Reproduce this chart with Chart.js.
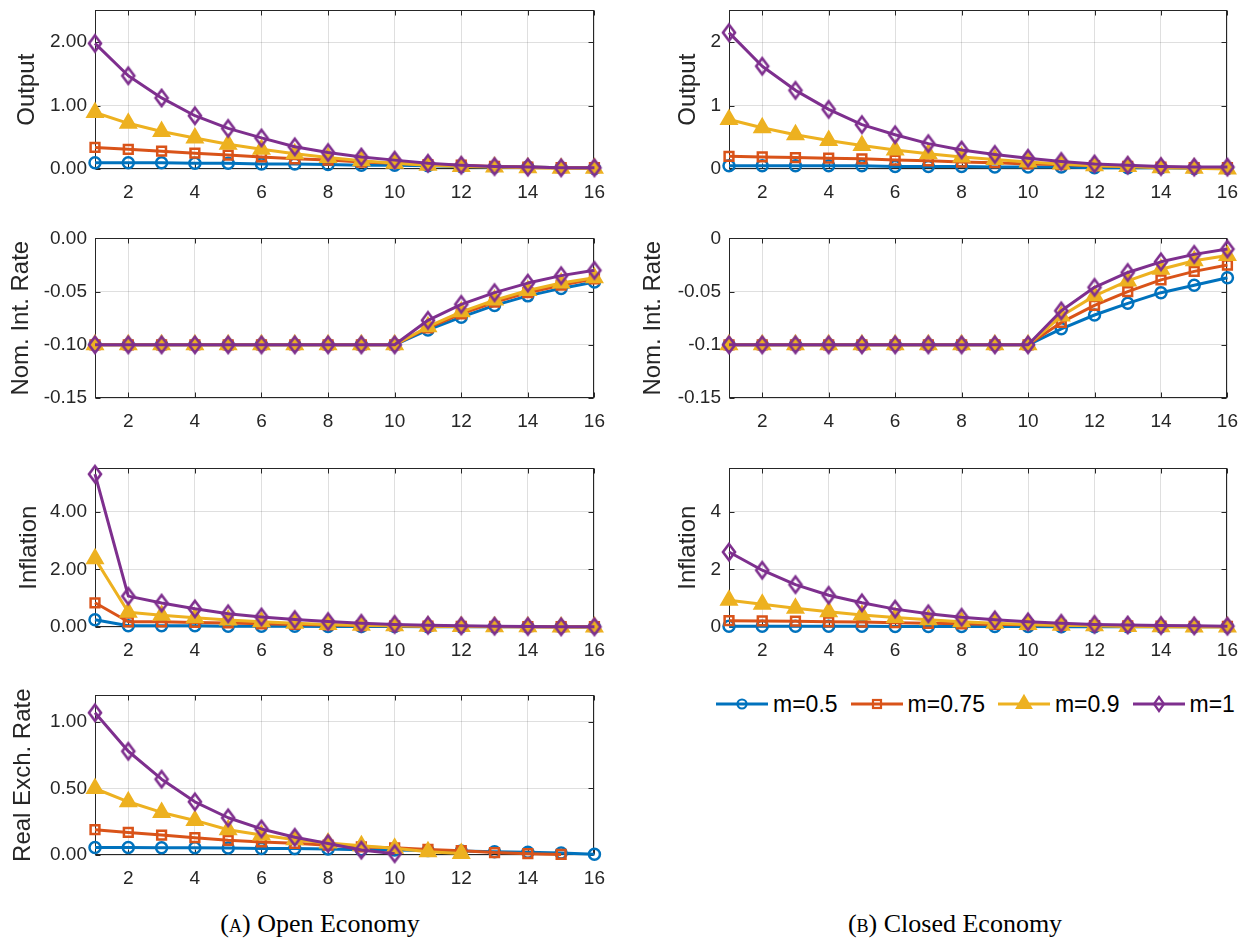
<!DOCTYPE html>
<html>
<head>
<meta charset="utf-8">
<script src="https://cdn.jsdelivr.net/npm/chart.js@4.4.1/dist/chart.umd.min.js"></script>
<style>
  body { margin: 0; background: #fff; }
  #page { position: relative; width: 1253px; height: 944px; overflow: hidden; font-family: "Liberation Sans", Arial, sans-serif; }
  #page canvas.panel { position: absolute; }
  #legend { position: absolute; left: 716px; top: 690px; display: flex; align-items: center; font-size: 23px; color: #000; }
  #legend .item { display: flex; align-items: center; margin-right: 13px; }
  #legend canvas { margin-right: 5px; }
  .caption { position: absolute; top: 909px; width: 400px; text-align: center; font-family: "Liberation Serif", "DejaVu Serif", serif; font-size: 26px; color: #000; }
  .sc { font-variant: small-caps; }
</style>
</head>
<body>
<div id="page">
  <div id="legend"></div>
  <div class="caption" style="left:120px">(<span class="sc">a</span>) Open Economy</div>
  <div class="caption" style="left:755px">(<span class="sc">b</span>) Closed Economy</div>
</div>
<script>
// periods on the x axis
const periods = [1, 2, 3, 4, 5, 6, 7, 8, 9, 10, 11, 12, 13, 14, 15, 16];
const seriesNames = ['m=0.5', 'm=0.75', 'm=0.9', 'm=1'];

// open economy (rows: m=0.5, m=0.75, m=0.9, m=1)
const outputOpen = [
  [0.10, 0.10, 0.10, 0.09, 0.09, 0.08, 0.08, 0.07, 0.06, 0.06, 0.05, 0.04, 0.03, 0.03, 0.02, 0.01],
  [0.34, 0.31, 0.28, 0.25, 0.22, 0.19, 0.16, 0.14, 0.11, 0.09, 0.07, 0.06, 0.04, 0.03, 0.02, 0.02],
  [0.89, 0.72, 0.59, 0.49, 0.39, 0.31, 0.24, 0.18, 0.13, 0.09, 0.06, 0.04, 0.03, 0.02, 0.01, 0.01],
  [1.98, 1.47, 1.12, 0.84, 0.64, 0.49, 0.35, 0.26, 0.19, 0.14, 0.09, 0.06, 0.04, 0.03, 0.02, 0.02]
];
const rateOpen = [
  [-0.1, -0.1, -0.1, -0.1, -0.1, -0.1, -0.1, -0.1, -0.1, -0.1, -0.086, -0.074, -0.063, -0.054, -0.047, -0.041],
  [-0.1, -0.1, -0.1, -0.1, -0.1, -0.1, -0.1, -0.1, -0.1, -0.1, -0.084, -0.071, -0.060, -0.051, -0.044, -0.038],
  [-0.1, -0.1, -0.1, -0.1, -0.1, -0.1, -0.1, -0.1, -0.1, -0.1, -0.083, -0.069, -0.058, -0.049, -0.042, -0.037],
  [-0.1, -0.1, -0.1, -0.1, -0.1, -0.1, -0.1, -0.1, -0.1, -0.1, -0.077, -0.062, -0.051, -0.042, -0.035, -0.030]
];
const inflationOpen = [
  [0.25, 0.04, 0.04, 0.04, 0.03, 0.03, 0.03, 0.02, 0.02, 0.02, 0.01, 0.01, 0.01, 0.01, 0.01, 0.00],
  [0.84, 0.18, 0.18, 0.16, 0.14, 0.11, 0.09, 0.07, 0.05, 0.04, 0.03, 0.02, 0.02, 0.01, 0.01, 0.01],
  [2.37, 0.51, 0.41, 0.32, 0.24, 0.18, 0.13, 0.09, 0.06, 0.04, 0.03, 0.02, 0.01, 0.01, 0.00, 0.00],
  [5.30, 1.07, 0.83, 0.63, 0.46, 0.35, 0.26, 0.19, 0.13, 0.09, 0.06, 0.04, 0.03, 0.02, 0.01, 0.01]
];
const exchangeOpen = [
  [0.056, 0.056, 0.055, 0.054, 0.052, 0.049, 0.048, 0.045, 0.040, 0.037, 0.033, 0.030, 0.025, 0.020, 0.015, 0.005],
  [0.19, 0.17, 0.15, 0.13, 0.11, 0.098, 0.088, 0.074, 0.061, 0.054, 0.042, 0.032, 0.018, 0.010, 0.004, null],
  [0.50, 0.40, 0.32, 0.26, 0.19, 0.15, 0.115, 0.09, 0.07, 0.05, 0.025, 0.012, null, null, null, null],
  [1.07, 0.78, 0.57, 0.40, 0.28, 0.196, 0.133, 0.086, 0.037, 0.010, null, null, null, null, null, null]
];

// closed economy
const outputClosed = [
  [0.05, 0.05, 0.05, 0.05, 0.05, 0.04, 0.04, 0.04, 0.03, 0.03, 0.03, 0.02, 0.02, 0.02, 0.01, 0.01],
  [0.20, 0.19, 0.18, 0.17, 0.16, 0.14, 0.13, 0.11, 0.10, 0.08, 0.07, 0.05, 0.04, 0.03, 0.02, 0.02],
  [0.78, 0.65, 0.54, 0.45, 0.37, 0.30, 0.24, 0.19, 0.15, 0.11, 0.08, 0.05, 0.04, 0.02, 0.01, 0.00],
  [2.15, 1.62, 1.24, 0.94, 0.70, 0.54, 0.40, 0.30, 0.23, 0.17, 0.12, 0.08, 0.06, 0.04, 0.03, 0.03]
];
const rateClosed = [
  [-0.1, -0.1, -0.1, -0.1, -0.1, -0.1, -0.1, -0.1, -0.1, -0.1, -0.085, -0.072, -0.061, -0.051, -0.044, -0.037],
  [-0.1, -0.1, -0.1, -0.1, -0.1, -0.1, -0.1, -0.1, -0.1, -0.1, -0.079, -0.063, -0.050, -0.039, -0.031, -0.025],
  [-0.1, -0.1, -0.1, -0.1, -0.1, -0.1, -0.1, -0.1, -0.1, -0.1, -0.073, -0.054, -0.040, -0.029, -0.021, -0.016],
  [-0.1, -0.1, -0.1, -0.1, -0.1, -0.1, -0.1, -0.1, -0.1, -0.1, -0.068, -0.046, -0.032, -0.022, -0.015, -0.010]
];
const inflationClosed = [
  [0.03, 0.03, 0.03, 0.03, 0.03, 0.02, 0.02, 0.02, 0.02, 0.02, 0.01, 0.01, 0.01, 0.01, 0.01, 0.01],
  [0.22, 0.21, 0.20, 0.18, 0.17, 0.15, 0.13, 0.11, 0.09, 0.08, 0.06, 0.05, 0.04, 0.03, 0.02, 0.02],
  [0.93, 0.79, 0.65, 0.53, 0.42, 0.33, 0.25, 0.18, 0.13, 0.09, 0.06, 0.04, 0.02, 0.01, 0.00, 0.00],
  [2.60, 1.97, 1.47, 1.10, 0.84, 0.62, 0.46, 0.34, 0.25, 0.18, 0.13, 0.09, 0.07, 0.05, 0.04, 0.03]
];

const colors = ['#0072BD', '#D95319', '#EDB120', '#7E2F8E'];
const axisColor = '#262626';
const gridColor = 'rgba(38,38,38,0.15)';

// tall diamond like matlab's 'd' marker
function diamondMarker(color, w, h, lw) {
  const c = document.createElement('canvas');
  c.width = Math.ceil(w + lw * 2);
  c.height = Math.ceil(h + lw * 2);
  const g = c.getContext('2d');
  const cx = c.width / 2, cy = c.height / 2;
  g.strokeStyle = color;
  g.lineWidth = lw;
  g.beginPath();
  g.moveTo(cx, cy - h / 2);
  g.lineTo(cx + w / 2, cy);
  g.lineTo(cx, cy + h / 2);
  g.lineTo(cx - w / 2, cy);
  g.closePath();
  g.stroke();
  return c;
}

const markers = [
  { pointStyle: 'circle', pointRadius: 5.5, pointBackgroundColor: 'rgba(0,0,0,0)' },
  { pointStyle: 'rect', pointRadius: 6.2, pointBackgroundColor: 'rgba(0,0,0,0)' },
  { pointStyle: 'triangle', pointRadius: 8.5, pointBackgroundColor: colors[2] },
  { pointStyle: diamondMarker(colors[3], 12, 16, 2.6), pointRadius: 8, pointBackgroundColor: 'rgba(0,0,0,0)' }
];

const fixed2 = v => Number(v).toFixed(2);
const short = v => String(parseFloat(Number(v).toFixed(3)));

// box round the axes plus inward tick marks
const boxPlugin = {
  id: 'box',
  beforeDatasetsDraw(chart) {
    const { ctx, chartArea: a, scales } = chart;
    const l = Math.round(a.left) + 0.5, r = Math.round(a.right) - 0.5;
    const t = Math.round(a.top) + 0.5, b = Math.round(a.bottom) - 0.5;
    ctx.save();
    ctx.strokeStyle = axisColor;
    ctx.lineWidth = 1;
    ctx.strokeRect(l, t, r - l, b - t);
    ctx.beginPath();
    scales.x.ticks.forEach(tk => {
      const px = Math.round(scales.x.getPixelForValue(tk.value)) + 0.5;
      ctx.moveTo(px, b); ctx.lineTo(px, b - 5);
      ctx.moveTo(px, t); ctx.lineTo(px, t + 5);
    });
    scales.y.ticks.forEach(tk => {
      const py = Math.round(scales.y.getPixelForValue(tk.value)) + 0.5;
      ctx.moveTo(l, py); ctx.lineTo(l + 5, py);
      ctx.moveTo(r, py); ctx.lineTo(r - 5, py);
    });
    ctx.stroke();
    ctx.restore();
  }
};

const colLeft = { canvasLeft: 0, width: 617, fmt: fixed2 };
const colRight = { canvasLeft: 634, width: 616, fmt: short };

const panels = [
  { col: colLeft, rows: outputOpen, title: 'Output', y: [0, 2.5, 1], top: 5, bottom: 169, titlePad: 13 },
  { col: colLeft, rows: rateOpen, title: 'Nom. Int. Rate', y: [-0.15, 0, 0.05], top: 233, bottom: 398, titlePad: 7 },
  { col: colLeft, rows: inflationOpen, title: 'Inflation', y: [0, 5.5, 2], top: 463, bottom: 627, titlePad: 15 },
  { col: colLeft, rows: exchangeOpen, title: 'Real Exch. Rate', y: [0, 1.2, 0.5], top: 690, bottom: 855, titlePad: 9 },
  { col: colRight, rows: outputClosed, title: 'Output', y: [0, 2.5, 1], top: 5, bottom: 169, titlePad: 40 },
  { col: colRight, rows: rateClosed, title: 'Nom. Int. Rate', y: [-0.15, 0, 0.05], top: 233, bottom: 398, titlePad: 5 },
  { col: colRight, rows: inflationClosed, title: 'Inflation', y: [0, 5.5, 2], top: 463, bottom: 627, titlePad: 40 }
];

const page = document.getElementById('page');
const padTop = 14, xAxisH = 36, yAxisW = 95;

panels.forEach(p => {
  const canvas = document.createElement('canvas');
  canvas.className = 'panel';
  canvas.width = p.col.width;
  canvas.height = padTop + (p.bottom - p.top) + xAxisH;
  canvas.style.left = p.col.canvasLeft + 'px';
  canvas.style.top = (p.top - padTop) + 'px';
  page.appendChild(canvas);

  const [ymin, ymax, ystep] = p.y;
  const datasets = p.rows.map((vals, i) => Object.assign({
    label: seriesNames[i],
    data: periods.map((x, k) => ({ x: x, y: vals[k] })),
    borderColor: colors[i],
    pointBorderColor: colors[i],
    borderWidth: 3,
    pointBorderWidth: 2.5,
    borderJoinStyle: 'round',
    tension: 0,
    spanGaps: false,
    clip: false,
    order: 3 - i
  }, markers[i]));

  new Chart(canvas.getContext('2d'), {
    type: 'line',
    data: { datasets },
    options: {
      responsive: false,
      animation: false,
      events: [],
      layout: { padding: { top: padTop, right: 20, left: 0, bottom: 0 } },
      plugins: { legend: { display: false }, tooltip: { enabled: false } },
      scales: {
        x: {
          type: 'linear', min: 1, max: 16,
          grid: { color: gridColor, drawTicks: false },
          border: { display: false },
          ticks: { padding: 12, color: axisColor, font: { size: 19 }, callback: v => v },
          afterBuildTicks: s => { s.ticks = periods.filter(v => v % 2 === 0).map(v => ({ value: v })); },
          afterFit: s => { s.height = xAxisH; }
        },
        y: {
          min: ymin, max: ymax,
          grid: { color: gridColor, drawTicks: false },
          border: { display: false },
          ticks: { stepSize: ystep, padding: 8, color: axisColor, font: { size: 19 }, callback: p.col.fmt },
          afterBuildTicks: s => {
            s.ticks = s.ticks.filter(t => Math.abs(t.value / ystep - Math.round(t.value / ystep)) < 1e-6);
          },
          title: { display: true, text: p.title, color: axisColor, font: { size: 24 }, padding: { top: p.titlePad, bottom: 0 } },
          afterFit: s => { s.width = yAxisW; }
        }
      }
    },
    plugins: [boxPlugin]
  });
});

// legend swatches: line with marker in the middle
const legend = document.getElementById('legend');
seriesNames.forEach((name, i) => {
  const item = document.createElement('div');
  item.className = 'item';
  const c = document.createElement('canvas');
  c.width = 52; c.height = 28;
  const g = c.getContext('2d');
  const cx = 26, cy = 14;
  g.strokeStyle = colors[i];
  g.lineWidth = 3;
  g.beginPath(); g.moveTo(0, cy); g.lineTo(52, cy); g.stroke();
  g.lineWidth = 2.2;
  g.beginPath();
  if (i === 0) {
    g.arc(cx, cy, 4.5, 0, Math.PI * 2); g.stroke();
  } else if (i === 1) {
    g.strokeRect(cx - 4, cy - 4, 8, 8);
  } else if (i === 2) {
    g.fillStyle = colors[2];
    g.moveTo(cx, cy - 8); g.lineTo(cx + 7, cy + 4); g.lineTo(cx - 7, cy + 4); g.closePath();
    g.fill(); g.stroke();
  } else {
    g.moveTo(cx, cy - 7); g.lineTo(cx + 5, cy); g.lineTo(cx, cy + 7); g.lineTo(cx - 5, cy); g.closePath(); g.stroke();
  }
  const label = document.createElement('span');
  label.textContent = name;
  item.appendChild(c);
  item.appendChild(label);
  legend.appendChild(item);
});
</script>
</body>
</html>
